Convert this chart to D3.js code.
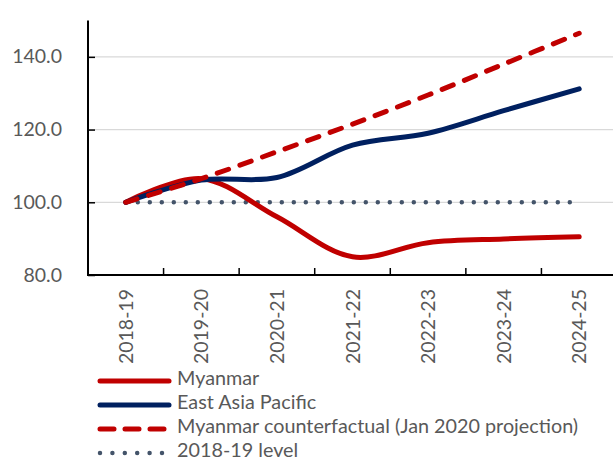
<!DOCTYPE html>
<html>
<head>
<meta charset="utf-8">
<script src="https://cdn.jsdelivr.net/npm/d3@7"></script>
<style>
  body { margin: 0; background: #fff; }
  text { font-family: Lato, "Noto Sans", sans-serif; fill: #595959; }
</style>
</head>
<body>
<svg id="svg" width="613" height="461"></svg>
<script>
const years = ['2018-19', '2019-20', '2020-21', '2021-22', '2022-23', '2023-24', '2024-25']
const myanmar = [100, 106.5, 96.0, 85.0, 88.9, 89.9, 90.5]
const eastAsia = [100, 106.1, 106.8, 115.7, 119.0, 125.2, 131.2]
const counterfactual = [100, 106.5, 113.9, 121.5, 129.5, 138.0, 146.5]
const baseline = [100, 100, 100, 100, 100, 100, 100]
const yTicks = [80, 100, 120, 140]

const legendItems = [
  { name: 'Myanmar', color: '#C00000', dash: null },
  { name: 'East Asia Pacific', color: '#002060', dash: null },
  { name: 'Myanmar counterfactual (Jan 2020 projection)', color: '#C00000', dash: 'dash' },
  { name: '2018-19 level', color: '#44546A', dash: 'dot' }
]

let svg = d3.select('#svg')

let x = d3.scaleBand().domain(years).range([88, 617])
let y = d3.scaleLinear().domain([80, 150]).range([275, 20.5])

let cx = d => x(d) + x.bandwidth() / 2

// gridlines
svg.selectAll('.grid')
  .data(yTicks.filter(t => t > 80))
  .enter()
  .append('line')
  .attr('x1', 88).attr('x2', 613)
  .attr('y1', d => y(d)).attr('y2', d => y(d))
  .attr('stroke', '#d9d9d9')
  .attr('stroke-width', 1.3)

// y axis
let yAxis = svg.append('g')
  .attr('transform', 'translate(88,0)')
  .call(d3.axisRight(y).tickValues(yTicks).tickSize(7).tickFormat(''))
yAxis.select('.domain').remove()
yAxis.selectAll('line').attr('stroke', '#000').attr('stroke-width', 1.5)
svg.append('line')
  .attr('x1', 88).attr('x2', 88)
  .attr('y1', 20.5).attr('y2', 275)
  .attr('stroke', '#000').attr('stroke-width', 2)

svg.selectAll('.ylab')
  .data(yTicks)
  .enter()
  .append('text')
  .attr('x', 62)
  .attr('y', d => y(d))
  .attr('dy', '0.34em')
  .attr('text-anchor', 'end')
  .style('font-size', '19.5px')
  .text(d => d.toFixed(1))

// x axis
let boundaries = years.slice(1).map(d => x(d))
svg.selectAll('.xtick')
  .data(boundaries)
  .enter()
  .append('line')
  .attr('x1', d => d).attr('x2', d => d)
  .attr('y1', 275).attr('y2', 268)
  .attr('stroke', '#000').attr('stroke-width', 1.5)
svg.append('line')
  .attr('x1', 87).attr('x2', 613)
  .attr('y1', 275).attr('y2', 275)
  .attr('stroke', '#000').attr('stroke-width', 2)

svg.selectAll('.xlab')
  .data(years)
  .enter()
  .append('text')
  .attr('transform', d => 'translate(' + cx(d) + ',289) rotate(-90)')
  .attr('dy', '0.36em')
  .attr('text-anchor', 'end')
  .style('font-size', '19.5px')
  .text(d => d)

// lines
let line = d3.line()
  .x((d, i) => cx(years[i]))
  .y(d => y(d))
  .curve(d3.curveCatmullRom)

let straight = d3.line()
  .x((d, i) => cx(years[i]))
  .y(d => y(d))

svg.append('path')
  .attr('d', straight(baseline))
  .attr('fill', 'none')
  .attr('stroke', '#44546A')
  .attr('stroke-width', 4.5)
  .attr('stroke-linecap', 'round')
  .attr('stroke-dasharray', '0,12')

svg.append('path')
  .attr('d', line(myanmar))
  .attr('fill', 'none')
  .attr('stroke', '#C00000')
  .attr('stroke-width', 5)
  .attr('stroke-linecap', 'round')

svg.append('path')
  .attr('d', line(eastAsia))
  .attr('fill', 'none')
  .attr('stroke', '#002060')
  .attr('stroke-width', 5)
  .attr('stroke-linecap', 'round')

svg.append('path')
  .attr('d', line(counterfactual))
  .attr('fill', 'none')
  .attr('stroke', '#C00000')
  .attr('stroke-width', 5)
  .attr('stroke-linecap', 'round')
  .attr('stroke-dasharray', '12,12')

// legend
let legend = svg.selectAll('.legend')
  .data(legendItems)
  .enter()
  .append('g')
  .attr('transform', (d, i) => 'translate(0,' + (381 + i * 24) + ')')

legend.append('line')
  .attr('x1', 100)
  .attr('x2', d => d.dash === 'dot' ? 163 : 169)
  .attr('y1', 0).attr('y2', 0)
  .attr('stroke', d => d.color)
  .attr('stroke-width', d => d.dash === 'dot' ? 4.5 : 5)
  .attr('stroke-linecap', 'round')
  .attr('stroke-dasharray', d => d.dash === 'dot' ? '0,12.4' : (d.dash ? '14,11' : null))

legend.append('text')
  .attr('x', 177)
  .attr('y', 0)
  .attr('dy', '0.2em')
  .style('font-size', '19.8px')
  .text(d => d.name)
</script>
</body>
</html>
